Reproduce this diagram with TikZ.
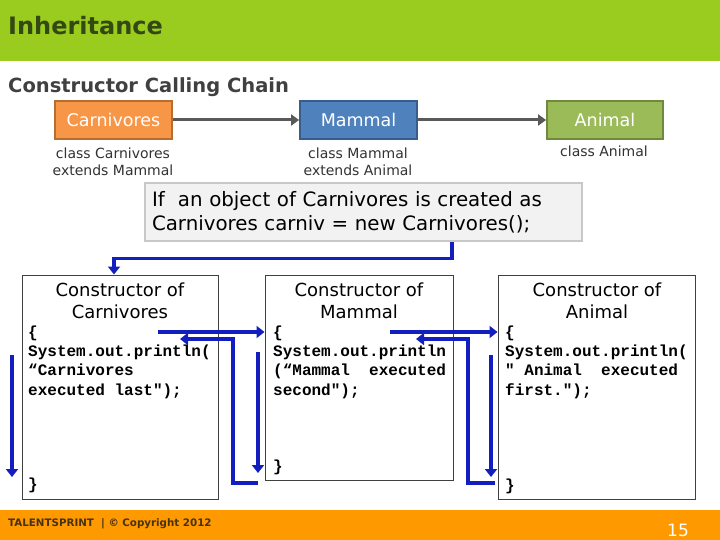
\documentclass[tikz,border=0pt]{standalone}
\usepackage{fontspec}
\setmainfont{DejaVu Sans}
\newfontfamily\codefont{Liberation Mono}
\usetikzlibrary{arrows.meta}

\definecolor{bannergreen}{RGB}{153,204,31}
\definecolor{titlegreen}{RGB}{52,72,18}
\definecolor{subgray}{RGB}{64,64,64}
\definecolor{carnorange}{RGB}{247,150,70}
\definecolor{carnborder}{RGB}{182,109,49}
\definecolor{mammblue}{RGB}{79,129,189}
\definecolor{mammborder}{RGB}{56,93,138}
\definecolor{animgreen}{RGB}{155,187,89}
\definecolor{animborder}{RGB}{113,137,63}
\definecolor{labelgray}{RGB}{50,50,50}
\definecolor{arrowgray}{RGB}{89,89,89}
\definecolor{calloutfill}{RGB}{242,242,242}
\definecolor{calloutgray}{RGB}{200,200,200}
\definecolor{boxgray}{RGB}{64,64,64}
\definecolor{flowblue}{RGB}{18,30,190}
\definecolor{footerorange}{RGB}{255,153,0}
\definecolor{footertext}{RGB}{70,50,20}

\begin{document}
\begin{tikzpicture}[
        x=1pt,
        y=-1pt,
        classbox/.style={
            rectangle,
            draw,
            line width=1.8pt,
            text=white,
            minimum height=38pt,
            inner sep=0pt,
            font=\fontsize{17.5}{20}\selectfont
        },
        classlabel/.style={
            align=center,
            text=labelgray,
            inner sep=0pt,
            font=\fontsize{14}{17}\selectfont
        },
        callout/.style={
            rectangle,
            draw=calloutgray,
            fill=calloutfill,
            line width=1.5pt,
            align=left,
            text width=423pt,
            minimum height=58pt,
            inner sep=7pt,
            font=\fontsize{19.8}{24}\selectfont
        },
        consbox/.style={
            rectangle,
            draw=boxgray,
            line width=1pt,
            inner sep=0pt
        },
        constitle/.style={
            align=center,
            inner sep=0pt,
            font=\fontsize{18}{22}\selectfont
        },
        code/.style={
            align=left,
            anchor=north west,
            inner sep=0pt,
            font=\codefont\bfseries\fontsize{16}{19.3}\selectfont
        },
        chain/.style={-{Triangle[length=8pt,width=11pt]}, line width=3pt, draw=arrowgray},
        flow/.style={-{Triangle[length=8pt,width=12pt]}, line width=3.4pt, draw=flowblue}
    ]

        \useasboundingbox (0,0) rectangle (720,540);
        \fill[bannergreen] (0,0) rectangle (720,61);
        \fill[footerorange] (0,510) rectangle (720,540);

        \node[anchor=west, inner sep=0pt, text=titlegreen, font=\bfseries\fontsize{24}{28}\selectfont] (title) at (8,26) {Inheritance};
        \node[anchor=west, inner sep=0pt, text=subgray, font=\bfseries\fontsize{19.5}{23}\selectfont] (subtitle) at (8,87) {Constructor Calling Chain};

        \node[classbox, fill=carnorange, draw=carnborder, minimum width=117pt] (carn) at (113.5,120) {Carnivores};
        \node[classbox, fill=mammblue, draw=mammborder, minimum width=117pt] (mamm) at (358.5,120) {Mammal};
        \node[classbox, fill=animgreen, draw=animborder, minimum width=116pt] (anim) at (605,120) {Animal};

        \node[classlabel] (carnlabel) at (113,161.5) {class Carnivores\\extends Mammal};
        \node[classlabel] (mammlabel) at (358,161.5) {class Mammal\\extends Animal};
        \node[classlabel] (animlabel) at (604,151) {class Animal};

        \draw[chain] (carn.east) -- (mamm.west);
        \draw[chain] (mamm.east) -- (anim.west);

        \node[callout] (note) at (363.5,212) {If~ an object of Carnivores is created as\\Carnivores carniv = new Carnivores();};

        \node[consbox, minimum width=196pt, minimum height=224pt] (cons1) at (120,387) {};
        \node[consbox, minimum width=188pt, minimum height=205pt] (cons2) at (359,377.5) {};
        \node[consbox, minimum width=197pt, minimum height=224pt] (cons3) at (596.5,387) {};

        \node[constitle] (head1) at (120,301) {Constructor of\\Carnivores};
        \node[constitle] (head2) at (359,301) {Constructor of\\Mammal};
        \node[constitle] (head3) at (597,301) {Constructor of\\Animal};

        \node[code] (code1) at (28,325.5) {\{\\System.out.println(\\“Carnivores\\executed last");};
        \node[code] (code2) at (273,325.5) {\{\\System.out.println\\(“Mammal~~executed\\second");};
        \node[code] (code3) at (505,325.5) {\{\\System.out.println(\\"~Animal~~executed\\first.");};

        \node[code, anchor=west] (end1) at (28,485) {\}};
        \node[code, anchor=west] (end2) at (273,467) {\}};
        \node[code, anchor=west] (end3) at (505,486) {\}};

        \coordinate (call1) at (158,332);
        \coordinate (call2) at (390,332);
        \coordinate (run1) at (12,355);
        \coordinate (stop1) at (12,477);
        \coordinate (run2) at (258,352);
        \coordinate (stop2) at (258,473);
        \coordinate (run3) at (491,355);
        \coordinate (stop3) at (491,477);
        \coordinate (ret2) at (258,483);
        \coordinate (back1) at (180,339);
        \coordinate (ret3) at (495,483);
        \coordinate (back2) at (416,339);

        \draw[flow] ([xshift=88.5pt]note.south) -- ++(0,17) -| ([xshift=-6pt]cons1.north);
        \draw[flow] (call1) -- (call1 -| cons2.west);
        \draw[flow] (call2) -- (call2 -| cons3.west);
        \draw[flow] (run1) -- (stop1);
        \draw[flow] (run2) -- (stop2);
        \draw[flow] (run3) -- (stop3);
        \draw[flow] (ret2) -- ++(-25,0) |- (back1);
        \draw[flow] (ret3) -- ++(-27,0) |- (back2);

        \node[anchor=west, inner sep=0pt, text=footertext, font=\bfseries\fontsize{10.3}{12}\selectfont] (footer) at (8,524) {TALENTSPRINT~ | © Copyright 2012};
        \node[inner sep=0pt, text=white, font=\fontsize{17}{19}\selectfont] (page) at (678,530) {15};

    \end{tikzpicture}
\end{document}
